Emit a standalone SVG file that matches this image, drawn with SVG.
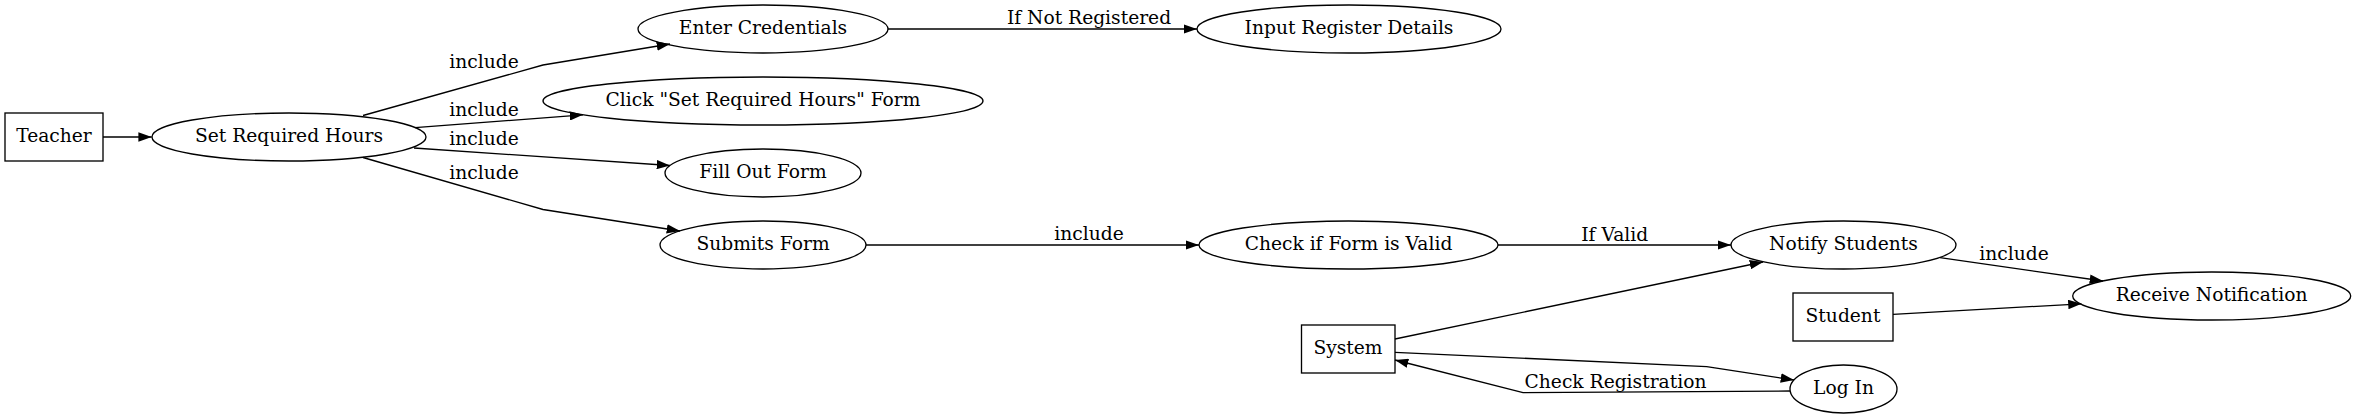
<svg xmlns="http://www.w3.org/2000/svg" width="2356" height="419" viewBox="0 0 2356 419">
<defs>
<marker id="arr" viewBox="0 0 13.3 9.4" refX="13.3" refY="4.7" markerWidth="13.3" markerHeight="9.4" markerUnits="userSpaceOnUse" orient="auto">
<path d="M0,0 L13.3,4.7 L0,9.4 z" fill="#000"/>
</marker>
</defs>
<style>
.n ellipse, .n rect { fill: none; stroke: #000; stroke-width: 1.33; }
text { font-family: "DejaVu Serif", serif; font-size: 18.67px; fill: #000; text-anchor: middle; }
.e path { fill: none; stroke: #000; stroke-width: 1.33; marker-end: url(#arr); }
</style>
<rect x="0" y="0" width="2356" height="419" fill="#fff"/>
<g class="e" id="connectors">
<path d="M103,137 L151.7,137"/>
<path d="M363,115.5 L543,65 L670,44"/>
<path d="M415,127.7 L583,114.8"/>
<path d="M414,148 L670,165.5"/>
<path d="M363,157.5 L543,209.5 L680,231"/>
<path d="M888,29 L1197,29"/>
<path d="M866,245 L1199,245"/>
<path d="M1498,245 L1731,245"/>
<path d="M1395,339 L1763,262"/>
<path d="M1395,352.3 L1706.7,366.7 L1794,380"/>
<path d="M1790,391 L1523,392.7 L1395,360"/>
<path d="M1940,257.7 L2103,281"/>
<path d="M1893,314.3 L2081.5,303.8"/>
<text x="484" y="68">include</text>
<text x="484" y="116">include</text>
<text x="484" y="145">include</text>
<text x="484" y="179">include</text>
<text x="1089" y="24">If Not Registered</text>
<text x="1089" y="240">include</text>
<text x="1614.7" y="240.7">If Valid</text>
<text x="1615.5" y="388">Check Registration</text>
<text x="2014" y="260">include</text>
</g>
<g class="n" id="teacher"><rect x="5" y="113" width="98" height="48"/><text x="54" y="142.3">Teacher</text></g>
<g class="n" id="set-required-hours"><ellipse cx="289" cy="137" rx="137" ry="24"/><text x="289" y="142.3">Set Required Hours</text></g>
<g class="n" id="enter-credentials"><ellipse cx="763" cy="29" rx="125" ry="24"/><text x="763" y="34.3">Enter Credentials</text></g>
<g class="n" id="click-form"><ellipse cx="763" cy="101" rx="220" ry="24"/><text x="763" y="106.3">Click "Set Required Hours" Form</text></g>
<g class="n" id="fill-out-form"><ellipse cx="763" cy="173" rx="98" ry="24"/><text x="763" y="178.3">Fill Out Form</text></g>
<g class="n" id="submits-form"><ellipse cx="763" cy="245" rx="103" ry="24"/><text x="763" y="250.3">Submits Form</text></g>
<g class="n" id="input-register-details"><ellipse cx="1349" cy="29" rx="152" ry="24"/><text x="1349" y="34.3">Input Register Details</text></g>
<g class="n" id="check-form-valid"><ellipse cx="1348.5" cy="245" rx="149.5" ry="24"/><text x="1348.5" y="250.3">Check if Form is Valid</text></g>
<g class="n" id="system"><rect x="1301.5" y="325" width="93.5" height="48"/><text x="1348" y="354.3">System</text></g>
<g class="n" id="notify-students"><ellipse cx="1843.5" cy="245" rx="112.5" ry="24"/><text x="1843.5" y="250.3">Notify Students</text></g>
<g class="n" id="student"><rect x="1793" y="293" width="100" height="48"/><text x="1843" y="322.3">Student</text></g>
<g class="n" id="log-in"><ellipse cx="1843.5" cy="389" rx="53.5" ry="24"/><text x="1843.5" y="394.3">Log In</text></g>
<g class="n" id="receive-notification"><ellipse cx="2211.7" cy="296" rx="139" ry="24"/><text x="2211.7" y="301.3">Receive Notification</text></g>
</svg>
